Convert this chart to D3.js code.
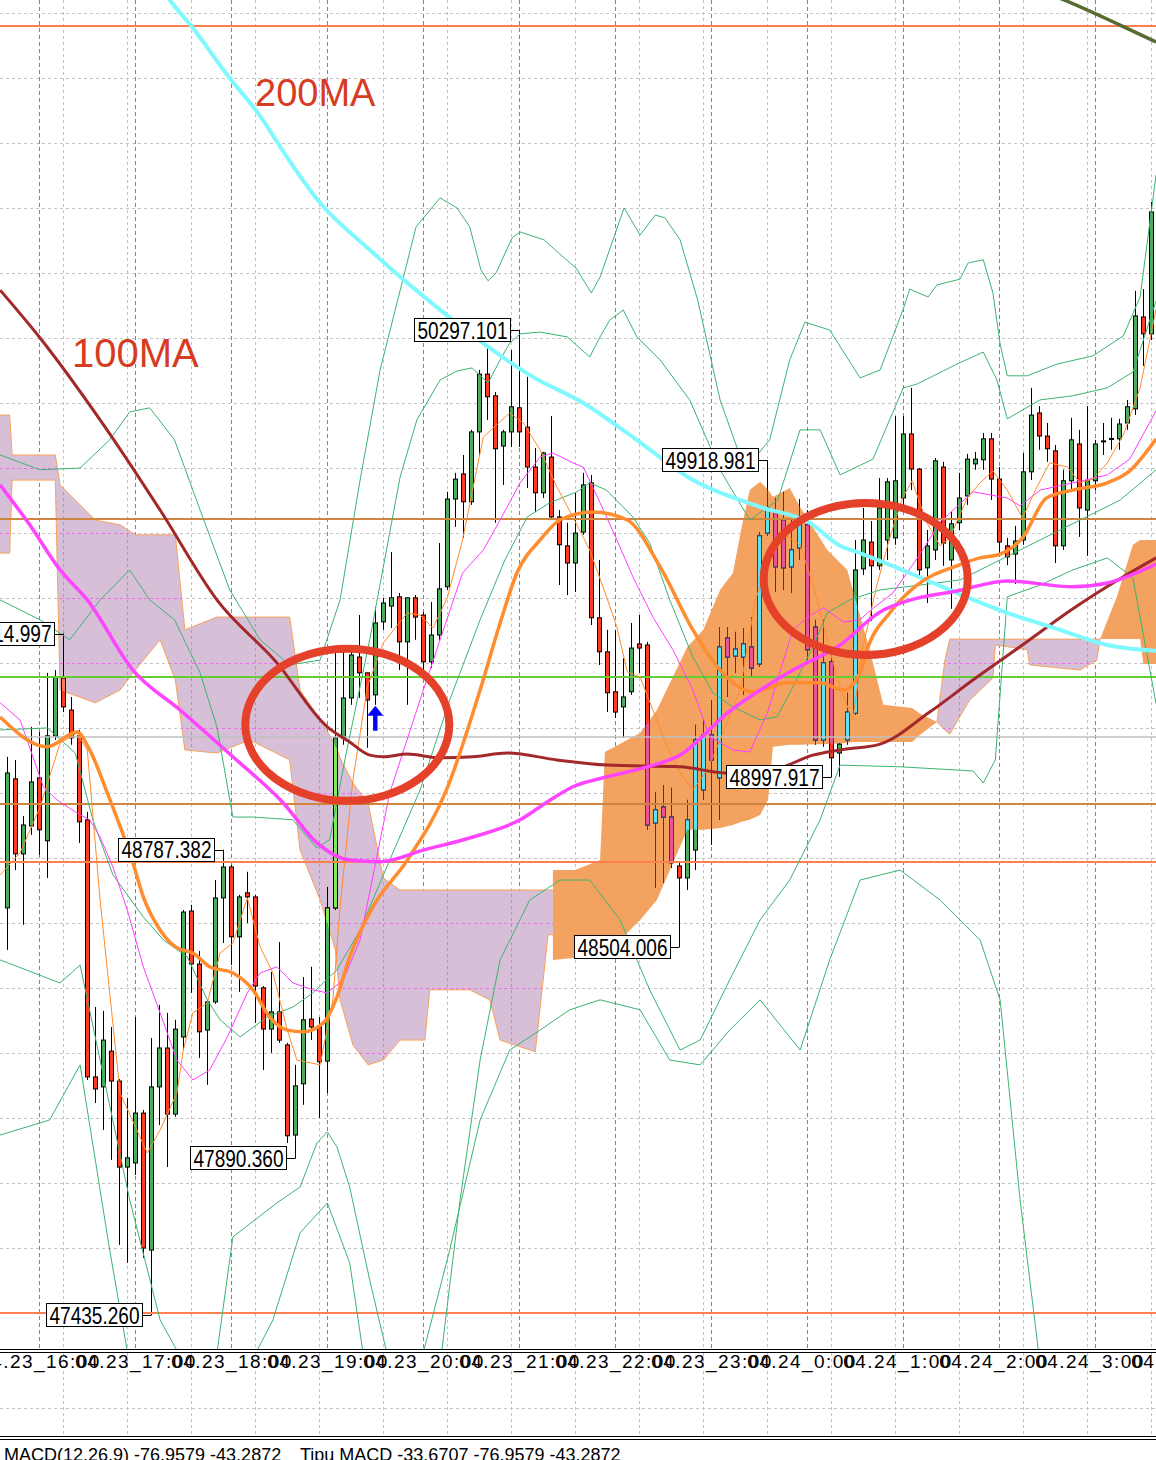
<!DOCTYPE html>
<html><head><meta charset="utf-8">
<script src="https://cdn.jsdelivr.net/npm/d3@7"></script>
<style>html,body{margin:0;padding:0;background:#fff;overflow:hidden}</style>
</head><body>
<script>
// ---------- DATA ----------
// candles: [open, high, low, close], one per bar
const ohlc = [
[48618,49057,48496,49010],[48993,49048,48728,48775],[48775,48885,48569,48859],[48856,49144,48830,48984],
[48996,49129,48772,48845],[48813,49301,48705,49118],[49118,49309,49106,49289],[49286,49414.997,49187,49202],
[49193,49231,49092,49112],[49118,49135,48807,48868],[48874,48897,48118,48127],[48127,48330,48051,48092],
[48098,48319,47973,48234],[48202,48272,47886,48115],[48115,48121,47639,47865],[47865,48066,47587,47892],
[47877,48301,47842,48022],[48022,48031,47601,47630],[47624,48240,47435.26,48098],[48098,48336,47987,48211],
[48211,48313,47865,48019],[48019,48293,48011,48266],[48243,48612,48205,48606],[48609,48627,48371,48455],
[48455,48493,48182,48258],[48263,48351,48104,48345],[48345,48699,48339,48647],[48647,48787.382,48516,48737],
[48737,48743,48452,48534],[48534,48656,48374,48650],[48662,48723,48574,48650],[48650,48656,48284,48391],
[48386,48391,48147,48266],[48266,48432,48197,48316],[48316,48519,48226,48234],[48220,48226,47935,47956],
[47958,48162,47890.36,48101],[48107,48417,48046,48293],[48295,48447,48234,48272],[48272,48301,48008,48171],
[48173,48679,48080,48618],[48618,49379,48612,49112],[49112,49368,49092,49228],[49228,49376,49208,49353],
[49347,49469,49228,49301],[49301,49301,49083,49222],[49237,49492,49208,49446],[49449,49519,49426,49504],
[49495,49652,49431,49519],[49522,49533,49309,49391],[49391,49519,49208,49519],[49519,49527,49397,49463],
[49469,49478,49304,49333],[49333,49507,49315,49411],[49411,49678,49397,49545],[49551,49827,49542,49806],
[49806,49882,49725,49864],[49879,49934,49693,49798],[49798,50007,49789,50001],[50001,50181,49934,50169],
[50169,50251,50036,50103],[50106,50117,49737,49952],[49960,50007,49847,50001],[50001,50239,49957,50074],
[50071,50297.101,49957,50001],[50015,50161,49838,49899],[49899,49954,49768,49824],[49824,49943,49809,49940],
[49928,50047,49751,49754],[49754,49774,49556,49673],[49670,49737,49527,49620],[49620,49824,49536,49707],
[49710,49882,49702,49847],[49853,49876,49440,49461],[49461,49629,49324,49362],[49362,49426,49187,49243],
[49246,49426,49170,49187],[49202,49344,49112,49231],[49246,49446,49237,49373],[49385,49469,49301,49373],
[49382,49391,48845,48859],[48865,48955,48676,48903],[48911,48975,48691,48882],[48882,48967,48734,48749],
[48740,48752,48504.006,48705],[48705,48932,48670,48874],[48786,49150,48728,49106],[48961,49164,48932,49121],
[49121,49222,48801,49048],[48996,49434,48874,49376],[49402,49434,49231,49347],[49350,49420,49301,49370],
[49347,49431,49237,49385],[49376,49463,49289,49315],[49327,49710,49318,49699],[49707,49918.981,49699,49780],
[49766,49809,49536,49609],[49745,49827,49542,49606],[49609,49751,49533,49658],[49664,49806,49629,49745],
[49731,49774,49338,49368],[49434,49455,49092,49106],[49106,49455,49086,49330],[49333,49368,48997.917,49054],
[49068,49097,48999,49094],[49106,49243,49092,49187],[49184,49687,49179,49600],[49603,49780,49585,49687],
[49681,49742,49452,49612],[49612,49867,49600,49780],[49687,49867,49629,49856],[49693,50047,49673,49859],
[49809,50047,49774,49995],[49995,50129,49832,49893],[49893,49896,49585,49600],[49606,49716,49504,49670],
[49658,49925,49629,49917],[49899,49914,49612,49678],[49629,49771,49487,49734],[49737,49882,49716,49809],
[49815,49937,49789,49922],[49908,49943,49891,49922],[49920,49998,49891,49981],[49981,49998,49803,49864],
[49864,49899,49641,49681],[49670,49693,49614,49638],[49646,49728,49559,49684],[49687,49940,49673,49885],
[49885,50129,49861,50050],[50056,50076,49949,49989],[49989,50027,49914,49952],[49946,49963,49620,49670],
[49670,49891,49658,49859],[49859,50042,49832,49978],[49966,50007,49696,49780],[49774,50076,49641,49859],
[49859,49978,49832,49966],[49972,50027,49934,49975],[49979,50042,49949,49982],[49981,50039,49949,50024],
[50027,50094,50007,50074],[50068,50411,50050,50338],[50335,50416,50193,50286],[50286,50669,50268,50640]
];

// indicator lines: [bar index, price]
const ma200 = [[17.8,51343],[20.3,51256],[22.9,51183],[27.7,51032],[31.5,50922],[35.2,50791],[38.8,50675],[45.3,50530],[50,50434],[52.3,50390],[57.8,50288],[65.7,50161],[72,50085],[78.2,49986],[85.7,49861],[94.1,49783],[100.3,49737],[104.1,49670],[106.6,49649],[112.5,49594],[118.7,49533],[125,49475],[131.2,49429],[137.5,49382],[143.6,49365]];
const ma100 = [[-0.9,50413],[4.1,50274],[11.6,50036],[19.1,49774],[26.2,49513],[33.7,49330],[40,49144],[42.8,49100],[45.3,49062],[47,49057],[50,49065],[54.1,49054],[58.2,49057],[62.5,49068],[68.7,49048],[75,49033],[84.1,49028],[90,49010],[95.7,49019],[100.7,49062],[104.1,49077],[109.1,49094],[115.3,49187],[120.7,49280],[126.9,49382],[133.2,49487],[139.5,49580],[143.6,49635]];
const maMagenta = [[-0.9,49847],[2.8,49731],[6.6,49600],[10,49513],[15.7,49309],[21.6,49193],[28.2,49057],[34.5,48923],[38.7,48807],[42.8,48757],[46.6,48752],[52,48786],[58.2,48824],[64.1,48874],[67.5,48926],[70.7,48970],[75,48999],[79.5,49025],[84.1,49062],[90,49184],[98.2,49309],[104.1,49382],[109.1,49478],[112.5,49510],[118.7,49539],[125,49568],[133.2,49551],[137.5,49562],[143.6,49617]];
const maOrange = [[-0.9,49173],[5,49086],[8.7,49129],[10.3,49077],[12.5,48952],[15.7,48749],[17,48650],[19.1,48554],[21.2,48502],[23.2,48487],[25.3,48447],[28.2,48429],[30.7,48380],[32.8,48301],[35,48263],[37,48258],[39.5,48284],[41.2,48359],[42.8,48476],[45.7,48621],[50,48757],[54.9,48961],[59.1,49251],[61.6,49446],[63.7,49591],[66.6,49687],[69.1,49745],[73.2,49768],[77.5,49745],[81.6,49609],[85.7,49426],[89.1,49309],[93.2,49246],[97.5,49272],[101.6,49272],[104.5,49251],[106.6,49301],[107.5,49370],[110.3,49475],[113.7,49556],[118.7,49612],[121.6,49635],[124.1,49646],[126.9,49693],[129.9,49809],[133.2,49832],[137.5,49853],[140.3,49888],[143.6,49981]];
const fastOrange = [[-0.9,48714],[1.6,48778],[4.1,48911],[6.6,49097],[8.7,49126],[10,49077],[11.6,48641],[14.1,48080],[17.5,47906],[19.1,47973],[21.2,48080],[22,48205],[23.2,48313],[25,48342],[26.6,48487],[28.2,48516],[30,48647],[31.6,48505],[33.2,48429],[35,48263],[36.2,48176],[39.1,48162],[40.7,48351],[41.6,48621],[43.2,48990],[45,49260],[47,49388],[50,49475],[51.6,49469],[53.2,49431],[55,49519],[56.9,49687],[59.5,49986],[62.8,50056],[64.5,50027],[66.6,49949],[68.7,49841],[70.7,49754],[72.8,49658],[74.9,49522],[76.2,49434],[77.5,49304],[79.1,49289],[80.7,49193],[82.5,49086],[84.1,49010],[85.7,48961],[87.5,49019],[89.1,49106],[91.6,49251],[93.5,49513],[95.3,49629],[97.2,49702],[99.1,49673],[100.9,49542],[102.8,49368],[104.1,49257],[105.7,49164],[106.9,49370],[108.7,49556],[110.3,49693],[111.9,49809],[113.1,49859],[114.9,49739],[116.6,49670],[117.8,49693],[120,49809],[121.6,49853],[123.2,49888],[125,49832],[126.9,49751],[128.7,49841],[130.3,49911],[132.5,49899],[134.1,49853],[135.7,49864],[137.5,49911],[139.5,49992],[141.6,50129],[143.6,50358]];
const fastMagenta = [[-0.9,49214],[1.6,49164],[4.5,48970],[6.2,48932],[8.7,48894],[10.3,48874],[11.6,48824],[13.2,48737],[15,48612],[17,48447],[19.1,48313],[21.2,48176],[23.2,48118],[25.3,48147],[27.5,48243],[30,48371],[31.6,48429],[33.7,48447],[35.7,48400],[38.2,48380],[40,48371],[42,48409],[44.1,48525],[47.8,48952],[52,49251],[54.1,49397],[56.9,49591],[59.5,49658],[61.6,49745],[64.1,49853],[66.6,49928],[68.2,49940],[70.7,49911],[72,49899],[74.1,49795],[76.2,49687],[78.2,49580],[80.7,49463],[83.2,49368],[85.7,49251],[87.8,49115],[90.7,49077],[92.8,49071],[95,49184],[98.2,49426],[100,49463],[102,49490],[104.5,49449],[106.6,49455],[107.5,49475],[110.7,49533],[114.1,49646],[116.6,49739],[120.7,49827],[125,49809],[126.6,49786],[129.1,49832],[133.2,49853],[137.5,49876],[140.3,49922],[143.6,50062]];
const bbU3 = [[-0.9,49934],[4.1,49891],[9.1,49896],[12.8,49978],[15.3,50059],[17.8,50071],[20.9,49978],[24.1,49774],[27.8,49542],[31.6,49397],[35.3,49324],[39.1,49338],[41.6,49513],[44.1,49861],[46.6,50181],[48.8,50384],[51.1,50597],[54.1,50681],[56.2,50652],[57.8,50597],[59.2,50472],[60.1,50440],[61.1,50463],[63.1,50565],[64.1,50582],[67.1,50559],[68.9,50521],[71.1,50477],[73,50405],[74.1,50451],[77.1,50652],[79.1,50573],[81,50631],[82.2,50623],[84.1,50559],[86.3,50384],[89.1,50094],[92.2,49891],[95.3,49978],[97.8,50210],[99.7,50320],[102.8,50297],[106.6,50158],[109.1,50181],[112,50358],[112.8,50416],[115.1,50393],[116.2,50428],[119.1,50445],[120.1,50492],[122,50501],[123.2,50405],[124.1,50257],[125,50164],[127.5,50164],[131.2,50198],[135.7,50222],[139.5,50280],[141.6,50393],[143.6,50748]];
const bbU2 = [[-0.9,49513],[4.1,49455],[7.8,49397],[11.6,49513],[15.3,49600],[17.8,49513],[20.9,49455],[24.1,49301],[26.2,49144],[28.2,48882],[30.7,48882],[35.7,48874],[38.7,48792],[40.3,48816],[42.2,49048],[45.3,49397],[49.1,49870],[51.2,50036],[54.1,50152],[56.2,50178],[58.1,50187],[60.1,50143],[61.6,50210],[62.8,50259],[64.1,50286],[66.6,50291],[70,50277],[72.8,50219],[74.1,50277],[75.3,50326],[77,50355],[78.7,50277],[81.6,50210],[85.3,50094],[89.1,49891],[92.8,49745],[96.3,49803],[99.1,50007],[101.6,50007],[104.1,49876],[108.2,49922],[112,50129],[113.7,50140],[118.7,50198],[122,50233],[123.7,50152],[125,50039],[129.1,50094],[133.2,50106],[137.5,50129],[140.7,50175],[143.6,50382]];
const bbMid = [[-0.9,49135],[5,49141],[8.5,49068],[10.7,48874],[13.2,48714],[17,48592],[19.5,48525],[22.5,48476],[25,48351],[26.6,48293],[29.1,48243],[32.5,48301],[35.7,48330],[38.2,48371],[41.2,48438],[44.1,48554],[47.8,48757],[51.6,48961],[55.3,49222],[59.1,49455],[62.2,49629],[65,49754],[67.8,49795],[71.2,49827],[72.8,49853],[74.9,49832],[78.2,49754],[80.3,49678],[82.8,49513],[85.7,49347],[88.2,49243],[90.7,49202],[94.1,49164],[96.2,49173],[98.2,49260],[100.7,49376],[102.5,49475],[105.3,49513],[109.1,49542],[114.1,49556],[119.1,49571],[124.1,49629],[129.1,49687],[134.1,49745],[139.1,49803],[143.6,49891]];
const bbL2 = [[-0.9,48467],[6.6,48400],[9.1,48452],[11.6,48176],[15.3,47770],[19.1,47421],[22.2,47290],[26,47290],[28.2,47662],[33.7,47761],[36.6,47807],[38.7,47935],[40,47967],[41.2,47924],[42.8,47807],[45.3,47537],[47.8,47290],[54.1,47290],[56.6,47770],[59.1,48176],[61.6,48467],[65.3,48641],[69.1,48699],[72.8,48699],[76.6,48583],[80.3,48380],[84.1,48205],[86.6,48234],[90.3,48409],[94.1,48583],[97.8,48699],[101.6,48874],[104.1,49033],[111.6,49028],[120.7,49016],[122,48981],[123.5,49048],[125,49522],[129.1,49556],[133.2,49600],[137.5,49635],[140.7,49577],[143.6,49211]];
const bbL3 = [[-0.9,47958],[5.3,48002],[9.1,48162],[12.8,47624],[15.3,47290],[30.3,47290],[33.2,47421],[36.6,47674],[40,47761],[42.8,47587],[44.7,47290],[51.6,47290],[55.3,47624],[59.1,48002],[62.8,48205],[66.6,48263],[70.3,48322],[74.1,48351],[79.1,48322],[82.8,48176],[86.6,48162],[90.3,48263],[94.1,48351],[99.1,48205],[102.8,48467],[106.6,48699],[111.6,48728],[116.6,48641],[121.6,48525],[124.1,48351],[126.6,47770],[129.1,47290]];
const oliveMA = [[130.3,51273],[132.1,51256],[139.1,51183],[143.6,51134]];

// ichimoku cloud pieces: [bar index, top price, bottom price]
const cloudPurpleA = [[-1.04,50050,49649],[0.3,50050,49649],[0.6,49934,49861],[6,49934,49861],[6.6,49847,49251],[11,49745,49214],[14.1,49731,49251],[16,49702,49309],[19.1,49702,49397],[21,49702,49280],[22.2,49426,49077],[26.2,49463,49068],[30.3,49463,49106],[35.3,49463,49048],[36.6,49251,48786],[39.1,49164,48641],[41,49092,48496],[41.6,49054,48351],[43.2,48981,48220],[45.1,48923,48162],[47,48705,48176],[49.1,48670,48234],[52.2,48670,48234],[52.8,48670,48380],[57.8,48670,48380],[60.3,48670,48351],[61.6,48670,48234],[66,48670,48200],[67.6,48670,48540],[68.2,48670,48540]];
const cloudOrangeA = [[68.2,48728,48467],[71,48728,48473],[74.1,48757,48481],[74.7,49071,48481],[79.1,49126,48583],[81.2,49193,48641],[85,49376,48845],[87,49426,48845],[89.1,49542,48850],[90.7,49591,48859],[91.8,49725,48868],[92.8,49832,48874],[94.1,49856,48888],[95.1,49832,48932],[95.7,49812,49086],[97.8,49838,49092],[99.1,49783,49092],[102.5,49658,49094],[105,49600,49097],[105.7,49542,49100],[107.8,49368,49100],[109.5,49208,49100],[113.1,49199,49100],[114.1,49182,49121],[116.2,49158,49158]];
const cloudPurpleB = [[116.2,49158,49158],[117.2,49338,49135],[117.8,49399,49123],[120.3,49399,49222],[123.2,49399,49286],[123.5,49399,49382],[127.5,49399,49368],[127.8,49399,49324],[134.1,49399,49309],[136.2,49399,49338],[136.6,49399,49399]];
const cloudOrangeB = [[136.6,49399,49399],[138.7,49522,49399],[140.7,49673,49399],[141.6,49687,49399],[142,49687,49327],[144.3,49687,49327]];

// horizontal levels
const levelPrices = [51180, 49748, 49289, 49115, 48920, 48752, 47441];
const levelKinds  = ["coral","peru","green","bid","peru","coral","coral"];

// swing labels
const extremeIdx   = [7, 18, 27, 36, 64, 84, 95, 103];
const extremePrice = [49414.997, 47435.260, 48787.382, 47890.360, 50297.101, 48504.006, 49918.981, 48997.917];

// time axis
const timeIdx    = [-3, 9, 21, 33, 45, 57, 69, 81, 93, 105, 117, 129, 141];
const timeLabels = ["04.23_16:00","04.23_17:00","04.23_18:00","04.23_19:00","04.23_20:00","04.23_21:00","04.23_22:00","04.23_23:00","04.24_0:00","04.24_1:00","04.24_2:00","04.24_3:00","04.24_4:00"];

// MACD legend values
const macdParams = "12,26,9";
const macdValues = [-76.9579, -43.2872];
const tipuValues = [-33.6707, -76.9579, -43.2872];

// ---------- DRAW ----------
const W = 1156, H = 1460, MAIN_B = 1349;
const FONT = "'Liberation Sans', Arial, Helvetica, sans-serif";
const svg = d3.select('body').append('svg').attr('width', W).attr('height', H)
  .style('display', 'block').style('background', '#fff');
const defs = svg.append('defs');
defs.append('clipPath').attr('id', 'mainClip').append('rect').attr('x', 0).attr('y', 0).attr('width', W).attr('height', MAIN_B);

const x = d3.scaleLinear().domain([0, 143]).range([7.3, 1151.3]);
const y = d3.scaleLinear().domain([47435.26, 50297.101]).range([1315, 330]);
const cx = i => Math.round(x(i)) + 0.5;

const main = svg.append('g').attr('clip-path', 'url(#mainClip)');

// grid
const gridG = main.append('g');
for (let k = 0; k <= 20; k++) {
  const gy = Math.round(13 + 65 * k) + 0.5;
  gridG.append('line').attr('x1', 0).attr('x2', W).attr('y1', gy).attr('y2', gy)
    .attr('stroke', '#c4c4c4').attr('stroke-dasharray', '3,3');
}
const lightGridIdx = d3.range(7, 144, 8);
const darkGridIdx = d3.range(4, 144, 12);
gridG.selectAll('line.lv').data(lightGridIdx).join('line').attr('class', 'lv')
  .attr('x1', d => cx(d)).attr('x2', d => cx(d)).attr('y1', 0).attr('y2', MAIN_B)
  .attr('stroke', '#c4c4c4').attr('stroke-dasharray', '3,3');
gridG.selectAll('line.dv').data(darkGridIdx).join('line').attr('class', 'dv')
  .attr('x1', d => cx(d)).attr('x2', d => cx(d)).attr('y1', 0).attr('y2', MAIN_B)
  .attr('stroke', '#7a8696').attr('stroke-dasharray', '4,3');

// clouds
const area = d3.area().x(d => x(d[0])).y0(d => y(d[2])).y1(d => y(d[1]));
const topLine = d3.line().x(d => x(d[0])).y(d => y(d[1]));
const botLine = d3.line().x(d => x(d[0])).y(d => y(d[2]));
const purple = [cloudPurpleA, cloudPurpleB], orange = [cloudOrangeA, cloudOrangeB];
const cloudG = main.append('g');
purple.forEach(c => cloudG.append('path').attr('d', area(c)).attr('fill', '#d7bfd8'));
orange.forEach(c => cloudG.append('path').attr('d', area(c)).attr('fill', '#f3a35f'));
purple.forEach(c => {
  cloudG.append('path').attr('d', topLine(c)).attr('fill', 'none').attr('stroke', '#f7a25a').attr('stroke-width', 1);
  cloudG.append('path').attr('d', botLine(c)).attr('fill', 'none').attr('stroke', '#f7a25a').attr('stroke-width', 1);
});
const cpO = defs.append('clipPath').attr('id', 'clipOrange');
orange.forEach(c => cpO.append('path').attr('d', area(c)));
const cpP = defs.append('clipPath').attr('id', 'clipPurple');
purple.forEach(c => cpP.append('path').attr('d', area(c)));

// grid seen through purple cloud
const gp = main.append('g').attr('clip-path', 'url(#clipPurple)');
for (let k = 0; k <= 20; k++) {
  const gy = Math.round(13 + 65 * k) + 0.5;
  gp.append('line').attr('x1', 0).attr('x2', W).attr('y1', gy).attr('y2', gy)
    .attr('stroke', '#e66fe6').attr('stroke-dasharray', '3,3');
}
gp.selectAll('line.lv').data(lightGridIdx).join('line').attr('class', 'lv')
  .attr('x1', d => cx(d)).attr('x2', d => cx(d)).attr('y1', 0).attr('y2', MAIN_B)
  .attr('stroke', '#e66fe6').attr('stroke-dasharray', '3,3');

// candles
function drawCandles(g, bull, bear, outline) {
  g.selectAll('line.w').data(ohlc).join('line').attr('class', 'w')
    .attr('x1', (d, i) => cx(i)).attr('x2', (d, i) => cx(i))
    .attr('y1', d => y(d[1])).attr('y2', d => y(d[2]))
    .attr('stroke', outline).attr('stroke-width', 1);
  g.selectAll('rect.b').data(ohlc).join('rect').attr('class', 'b')
    .attr('x', (d, i) => cx(i) - 2).attr('width', 4)
    .attr('y', d => Math.min(y(d[0]), y(d[3])))
    .attr('height', d => Math.max(1, Math.abs(y(d[0]) - y(d[3]))))
    .attr('fill', d => d[3] >= d[0] ? bull : bear)
    .attr('stroke', outline).attr('stroke-width', 1);
}
drawCandles(main.append('g'), '#4aad5e', '#ff3b22', '#000');
drawCandles(main.append('g').attr('clip-path', 'url(#clipOrange)'), '#5fe2f3', '#e8559a', '#233f8f');
drawCandles(main.append('g').attr('clip-path', 'url(#clipPurple)'), '#7eea56', '#ff7a66', '#000');

// level lines
const levelStyle = {coral: ['#ff7f50', 2], peru: ['#cd853f', 2], green: ['#66cc33', 2], bid: ['#c0c0c0', 1.5]};
main.selectAll('line.lvl').data(levelPrices).join('line').attr('class', 'lvl')
  .attr('x1', 0).attr('x2', W).attr('y1', d => Math.round(y(d))).attr('y2', d => Math.round(y(d)))
  .attr('stroke', (d, i) => levelStyle[levelKinds[i]][0])
  .attr('stroke-width', (d, i) => levelStyle[levelKinds[i]][1]);

// indicator lines
const lin = d3.line().x(d => x(d[0])).y(d => y(d[1]));
const smooth = d3.line().x(d => x(d[0])).y(d => y(d[1])).curve(d3.curveMonotoneX);
function path(g, data, gen, color, w) {
  g.append('path').attr('d', gen(data)).attr('fill', 'none').attr('stroke', color)
    .attr('stroke-width', w).attr('stroke-linejoin', 'round');
}
const ind = main.append('g');
[bbU3, bbU2, bbMid, bbL2, bbL3].forEach(b => path(ind, b, lin, '#3cb371', 1));
path(ind, fastMagenta, lin, '#ff3cff', 1);
path(ind, fastOrange, lin, '#ff8c2e', 1);
path(ind, ma100, smooth, '#a3282a', 3);
path(ind, ma200, smooth, '#7ff9ff', 4);
path(ind, maOrange, smooth, '#ff8c2e', 3.5);
path(ind, maMagenta, smooth, '#ff44ff', 3.5);
path(ind, oliveMA, smooth, '#556b2f', 3.5);

// swing labels
const lab = main.append('g');
extremeIdx.forEach((bi, k) => {
  const py = y(extremePrice[k]);
  const right = Math.round(x(bi) - 9.5) + 0.5;
  const ly = Math.round(py) + 0.5;
  lab.append('line').attr('x1', right).attr('x2', cx(bi)).attr('y1', ly).attr('y2', ly)
    .attr('stroke', '#000').attr('stroke-width', 1);
  lab.append('rect').attr('x', right - 96).attr('y', Math.round(py - 12) + 0.5)
    .attr('width', 96).attr('height', 23).attr('fill', '#fff').attr('stroke', '#000');
  lab.append('text').attr('x', right - 93).attr('y', py + 8.5)
    .attr('font-family', FONT).attr('font-size', 23)
    .attr('textLength', 90).attr('lengthAdjust', 'spacingAndGlyphs')
    .attr('fill', '#000').text(extremePrice[k].toFixed(3));
});

// blue arrow under bar 46
const ax = x(46), ay = y(ohlc[46][2]) + 1;
main.append('path')
  .attr('d', `M${ax},${ay} L${ax + 8},${ay + 10} L${ax + 2.2},${ay + 10} L${ax + 2.2},${ay + 25} L${ax - 2.2},${ay + 25} L${ax - 2.2},${ay + 10} L${ax - 8},${ay + 10} Z`)
  .attr('fill', '#0000ff');

// annotation ellipses and text
const ann = main.append('g');
[[42.5, 49150], [107.3, 49574]].forEach(c => {
  ann.append('ellipse').attr('cx', x(c[0])).attr('cy', y(c[1])).attr('rx', 102).attr('ry', 76)
    .attr('fill', 'none').attr('stroke', '#e5412a').attr('stroke-width', 8);
});
ann.append('text').attr('x', 255).attr('y', 106).attr('font-family', FONT).attr('font-size', 38)
  .attr('fill', '#d63c22').text('200MA');
ann.append('text').attr('x', 72).attr('y', 367).attr('font-family', FONT).attr('font-size', 40)
  .attr('fill', '#d63c22').text('100MA');

// ---------- axis panel ----------
const axisG = svg.append('g');
[1349.5, 1352.5, 1436.5, 1439.5].forEach(v => axisG.append('line').attr('x1', 0).attr('x2', W)
  .attr('y1', v).attr('y2', v).attr('stroke', '#000').attr('stroke-width', 1));
axisG.selectAll('line.av').data(lightGridIdx).join('line').attr('class', 'av')
  .attr('x1', d => cx(d)).attr('x2', d => cx(d)).attr('y1', 1353).attr('y2', 1436)
  .attr('stroke', '#c4c4c4').attr('stroke-dasharray', '3,3');
axisG.append('line').attr('x1', 0).attr('x2', W).attr('y1', 1408.5).attr('y2', 1408.5)
  .attr('stroke', '#c4c4c4').attr('stroke-dasharray', '3,3');
axisG.selectAll('text.t').data(timeLabels).join('text').attr('class', 't')
  .attr('x', (d, i) => x(timeIdx[i]) - 4).attr('y', 1368)
  .attr('font-family', FONT).attr('font-size', 19).attr('fill', '#000')
  .attr('textLength', d => d.length === 11 ? 120 : 108).attr('lengthAdjust', 'spacing')
  .text(d => d);

const fmt = v => v.toFixed(4);
axisG.append('text').attr('x', 4).attr('y', 1461).attr('font-family', FONT).attr('font-size', 18).attr('fill', '#000')
  .text(`MACD(${macdParams}) ${macdValues.map(fmt).join(' ')}`);
axisG.append('text').attr('x', 300).attr('y', 1461).attr('font-family', FONT).attr('font-size', 18).attr('fill', '#000')
  .text(`Tipu MACD ${tipuValues.map(fmt).join(' ')}`);
</script>
</body></html>
